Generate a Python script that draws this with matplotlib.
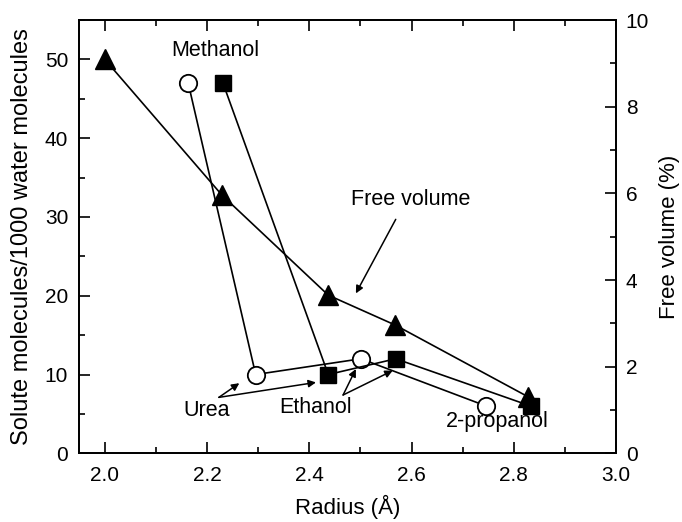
import matplotlib
matplotlib.use("Agg")
import matplotlib.pyplot as plt
from matplotlib.ticker import MultipleLocator

plt.rcParams['font.family'] = ['Liberation Sans', 'DejaVu Sans']

# solute molecules per 1000 water molecules vs. radius
urea_r = [2.163, 2.295, 2.501, 2.746]
urea_n = [47.0, 10.0, 12.0, 6.0]
sq_r = [2.231, 2.437, 2.569, 2.833]
sq_n = [47.0, 10.0, 12.0, 6.0]

# free volume (%) vs. radius
fv_r = [2.0, 2.229, 2.437, 2.568, 2.827]
fv_pct = [9.09, 5.96, 3.65, 2.96, 1.31]

fig = plt.figure(figsize=(6.82, 5.22), dpi=100)
ax = fig.add_axes([0.1163, 0.1316, 0.787, 0.830])
ax2 = ax.twinx()

ax.plot(urea_r, urea_n, '-o', color='black', lw=1.2, ms=12.5,
        mfc='white', mec='black', mew=1.3, zorder=3)
ax.plot(sq_r, sq_n, '-s', color='black', lw=1.2, ms=11.5,
        mfc='black', mec='black', zorder=3)
ax2.plot(fv_r, fv_pct, '-^', color='black', lw=1.2, ms=14,
         mfc='black', mec='black', zorder=3)

ax.set_xlim(1.95, 3.0)
ax.set_ylim(0, 55)
ax2.set_ylim(0, 10)

ax.xaxis.set_major_locator(MultipleLocator(0.2))
ax.xaxis.set_minor_locator(MultipleLocator(0.1))
ax.yaxis.set_major_locator(MultipleLocator(10))
ax.yaxis.set_minor_locator(MultipleLocator(5))
ax2.yaxis.set_major_locator(MultipleLocator(2))
ax2.yaxis.set_minor_locator(MultipleLocator(1))

ax.tick_params(axis='x', which='both', direction='in', top=True, bottom=True)
ax.tick_params(axis='y', which='both', direction='in', left=True, right=False)
ax2.tick_params(axis='y', which='both', direction='in')
for a in (ax, ax2):
    a.tick_params(which='major', length=8, width=1.2, labelsize=15)
    a.tick_params(which='minor', length=4.5, width=1.2)
    for s in a.spines.values():
        s.set_linewidth(1.3)
ax.tick_params(axis='x', pad=9)
ax.tick_params(axis='y', pad=8)
ax2.tick_params(axis='y', pad=7)

ax.set_xlabel('Radius (Å)', fontsize=16)
ax.xaxis.set_label_coords(0.5, -0.095)
ax.set_ylabel('Solute molecules/1000 water molecules', fontsize=17)
ax.yaxis.set_label_coords(-0.086, 0.5)
ax2.set_ylabel('Free volume (%)', fontsize=16)
ax2.yaxis.set_label_coords(1.080, 0.5)

ax.set_zorder(ax2.get_zorder() + 1)
ax.patch.set_visible(False)

txt = dict(fontsize=15.5, ha='center', va='center')
ax.text(2.216, 51.1, 'Methanol', **txt)
ax.text(2.599, 32.2, 'Free volume', **txt)
ax.text(2.200, 5.4, 'Urea', **txt)
ax.text(2.413, 5.8, 'Ethanol', **txt)
ax.text(2.768, 4.0, '2-propanol', **txt)

arr = dict(arrowstyle='-|>', color='black', lw=1.1, mutation_scale=11,
           shrinkA=0, shrinkB=0)
ax.annotate('', xy=(2.491, 20.3), xytext=(2.569, 29.7), arrowprops=arr)
ax.annotate('', xy=(2.263, 8.9), xytext=(2.223, 7.1), arrowprops=arr)
ax.annotate('', xy=(2.413, 9.0), xytext=(2.223, 7.1), arrowprops=arr)
ax.annotate('', xy=(2.491, 10.7), xytext=(2.466, 7.4), arrowprops=arr)
ax.annotate('', xy=(2.563, 10.5), xytext=(2.466, 7.4), arrowprops=arr)

fig.savefig('out.png', dpi=100)
